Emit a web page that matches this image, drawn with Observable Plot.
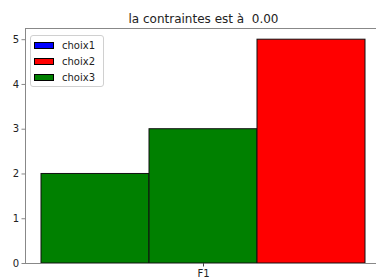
<!DOCTYPE html>
<html><head><meta charset="utf-8">
<script src="https://cdn.jsdelivr.net/npm/d3@7"></script>
<script src="https://cdn.jsdelivr.net/npm/@observablehq/plot@0.6"></script>
<style>
body{margin:0;background:#fff;font-family:"DejaVu Sans",sans-serif;}
#wrap{position:relative;width:376px;height:277px;overflow:hidden;}
#legend{position:absolute;left:30px;top:35px;width:74px;height:52px;border:1px solid #d0d0d0;border-radius:3px;background:rgba(255,255,255,0.8);box-sizing:border-box;font-size:10px;color:#222;}
.item{position:absolute;left:3px;height:12px;line-height:12px;white-space:nowrap;}
.sw{display:inline-block;width:20px;height:7px;border:1px solid #000;box-sizing:border-box;vertical-align:middle;margin-right:8px;position:relative;top:-1px;}
</style></head>
<body><div id="wrap"><div id="chart"></div><div id="legend"></div></div>
<script>
const title = "la contraintes est à  0.00";
const categories = ["F1"];
const series = ["choix1", "choix2", "choix3"];
const palette = ["blue", "red", "green"];
const barSeries = ["choix3", "choix3", "choix2"];
const barValues = [2, 3, 5];
const yTicks = [0, 1, 2, 3, 4, 5];

const bars = barValues.map((v, i) => ({i, series: barSeries[i], value: v}));

const chart = Plot.plot({
  width: 376,
  height: 277,
  marginLeft: 25,
  marginRight: -5,
  marginTop: 28,
  marginBottom: 14,
  style: {fontFamily: "DejaVu Sans, sans-serif", fontSize: "10px", color: "#222", background: "#fff"},
  x: {type: "band", domain: [0, 1, 2], paddingInner: 0, paddingOuter: 0.138},
  y: {domain: [0, 5.25]},
  color: {domain: series, range: palette},
  marks: [
    Plot.barY(bars, {x: "i", y: "value", fill: "series", stroke: "#111", strokeWidth: 1, insetLeft: 0, insetRight: 0}),
    Plot.frame({stroke: "#888", strokeWidth: 1}),
    Plot.axisY(yTicks, {tickSize: 3.5, tickPadding: 3, stroke: "#888", fill: "#222", fontSize: 10, label: null}),
    Plot.axisX([1], {tickSize: 3.5, tickPadding: 3, stroke: "#444", fill: "#222", fontSize: 10, label: null, tickFormat: () => categories[0]}),
    Plot.text([title], {text: d => d, frameAnchor: "top", lineAnchor: "bottom", dy: -6, fontSize: 12, fill: "#222"})
  ]
});
document.getElementById("chart").appendChild(chart);

const leg = document.getElementById("legend");
series.forEach((s, k) => {
  const it = document.createElement("div");
  it.className = "item";
  it.style.top = (4 + k * 16) + "px";
  const sw = document.createElement("span");
  sw.className = "sw";
  sw.style.background = palette[k];
  it.appendChild(sw);
  it.appendChild(document.createTextNode(s));
  leg.appendChild(it);
});
</script></body></html>
